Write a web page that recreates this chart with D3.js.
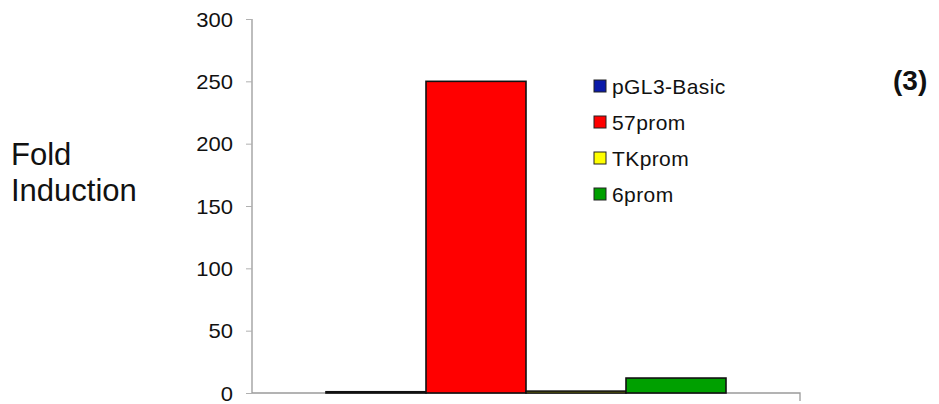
<!DOCTYPE html>
<html>
<head>
<meta charset="utf-8">
<script src="https://cdn.jsdelivr.net/npm/d3@7"></script>
<style>
  body { margin: 0; background: #fff; }
  svg { display: block; font-family: Arial, "Liberation Sans", sans-serif; }
</style>
</head>
<body>
<div id="chart"></div>
<script>
// series names, values and colours
const seriesNames = ['pGL3-Basic', '57prom', 'TKprom', '6prom'];
const seriesValues = [1, 250, 1.5, 12];
const seriesColors = ['#0a1aa8', '#ff0000', '#ffff00', '#00a000'];
const yTicks = [0, 50, 100, 150, 200, 250, 300];
const category = ['group'];

const width = 939, height = 404;
const margin = { left: 252, right: 139, top: 19, bottom: 11 };

const svg = d3.select('#chart').append('svg')
    .attr('width', width)
    .attr('height', height);

const plotW = width - margin.left - margin.right;
const plotH = height - margin.top - margin.bottom;

// one category; four bars inside it
const x0 = d3.scaleBand().domain(category).range([0, plotW]).paddingOuter(0).paddingInner(0);
const groupW = 400;
const x1 = d3.scaleBand().domain(seriesNames)
    .range([(plotW - groupW) / 2, (plotW + groupW) / 2]);

const y = d3.scaleLinear().domain([0, 300]).range([plotH, 0]);

const g = svg.append('g').attr('transform', `translate(${margin.left},${margin.top})`);

// y axis
const sx = 1.1;
const yAxis = g.append('g')
    .call(d3.axisLeft(y).tickValues(yTicks).tickSize(6).tickPadding(13));
yAxis.select('.domain').attr('stroke', '#9a9a9a').attr('stroke-width', 1.3)
    .attr('d', `M0,0V${plotH}`);
yAxis.selectAll('.tick line').attr('stroke', '#b0b0b0');
yAxis.selectAll('.tick text')
    .attr('fill', '#111')
    .style('font-size', '20px')
    .attr('transform', `scale(${sx},1)`)
    .attr('dy', '0.36em');
yAxis.selectAll('.tick text').each(function() {
    const t = d3.select(this);
    t.attr('x', (+t.attr('x')) / sx);
});

// x axis baseline
const xAxis = g.append('g').attr('transform', `translate(0,${plotH})`)
    .call(d3.axisBottom(x0).tickSize(0).tickFormat(''));
xAxis.select('.domain').attr('stroke', '#9a9a9a').attr('stroke-width', 1.3)
    .attr('d', `M0,0H${plotW}V8`);

// bars
g.selectAll('rect.bar')
    .data(seriesNames.map((n, i) => ({ name: n, value: seriesValues[i], color: seriesColors[i] })))
    .enter().append('rect')
    .attr('class', 'bar')
    .attr('x', d => x0('group') + x1(d.name))
    .attr('width', x1.bandwidth())
    .attr('y', d => y(d.value))
    .attr('height', d => plotH - y(d.value))
    .attr('fill', d => d.color)
    .attr('stroke', '#111')
    .attr('stroke-width', 1.6);

// legend
const legend = svg.append('g').attr('transform', 'translate(594,86)');
const rows = legend.selectAll('g.row')
    .data(seriesNames)
    .enter().append('g')
    .attr('class', 'row')
    .attr('transform', (d, i) => `translate(0,${i * 36})`);
rows.append('rect')
    .attr('x', 0).attr('y', -6)
    .attr('width', 12).attr('height', 12)
    .attr('fill', (d, i) => seriesColors[i])
    .attr('stroke', '#222').attr('stroke-width', 1);
rows.append('text')
    .attr('x', 18).attr('y', 0).attr('dy', '0.36em')
    .style('font-size', '21px')
    .style('letter-spacing', '0.4px')
    .attr('fill', '#111')
    .text(d => d);

// y axis title
svg.append('text')
    .attr('x', 11).attr('y', 165)
    .style('font-size', '31px').attr('fill', '#111')
    .text('Fold');
svg.append('text')
    .attr('x', 11).attr('y', 201)
    .style('font-size', '31px').attr('fill', '#111')
    .text('Induction');

// panel label
svg.append('text')
    .attr('x', 893).attr('y', 90)
    .style('font-size', '28px').style('font-weight', 'bold').attr('fill', '#111')
    .text('(3)');
</script>
</body>
</html>
